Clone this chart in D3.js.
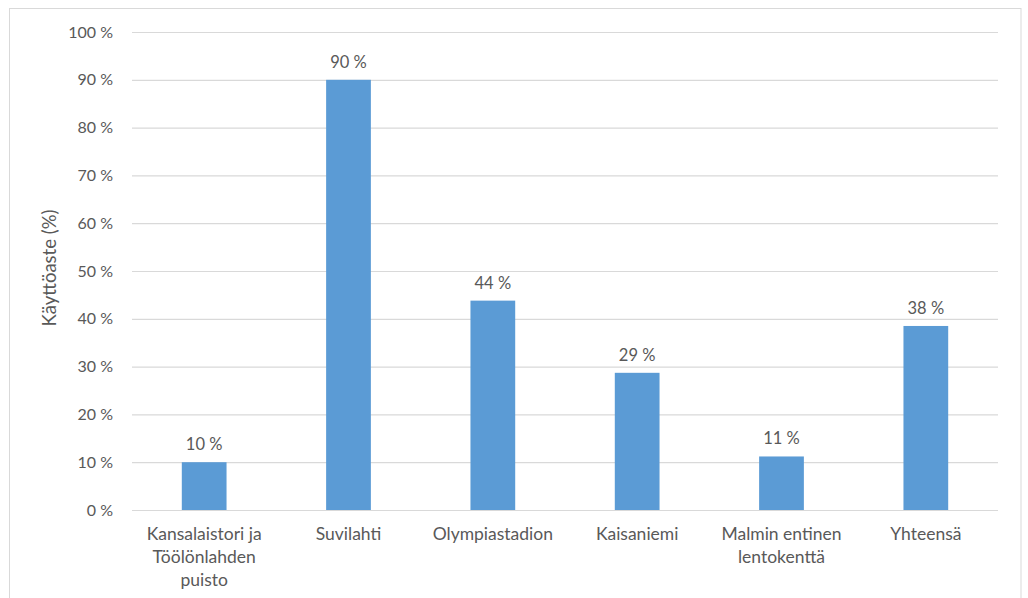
<!DOCTYPE html>
<html><head><meta charset="utf-8">
<script src="https://cdn.jsdelivr.net/npm/d3@7"></script>
<style>
body{margin:0;background:#fff;}
text{font-family:Lato,"Open Sans",sans-serif;fill:#595959;}
</style></head>
<body><svg id="c" width="1028" height="598"></svg>
<script>
const categories = ["Kansalaistori ja Töölönlahden puisto", "Suvilahti", "Olympiastadion", "Kaisaniemi", "Malmin entinen lentokenttä", "Yhteensä"];
const categoryLines = [["Kansalaistori ja","Töölönlahden","puisto"],["Suvilahti"],["Olympiastadion"],["Kaisaniemi"],["Malmin entinen","lentokenttä"],["Yhteensä"]];
const values = [10.0, 90.0, 43.8, 28.7, 11.2, 38.5];
const valueLabels = ["10 %", "90 %", "44 %", "29 %", "11 %", "38 %"];
const yTicks = [0,10,20,30,40,50,60,70,80,90,100];
const yTitle = "Käyttöaste (%)";

const svg = d3.select("#c");
svg.append("rect").attr("x",9.5).attr("y",8.5).attr("width",1011.5).attr("height",600)
  .attr("fill","#fff").attr("stroke","#d9d9d9").attr("stroke-width",1);

const m = {l:132, r:998, t:32, b:510};
const x = d3.scaleBand().domain(categories).range([m.l,m.r]).paddingInner(0.69).paddingOuter(0.345);
const y = d3.scaleLinear().domain([0,100]).range([m.b,m.t]);

const yAxis = svg.append("g").attr("transform",`translate(${m.l},0)`)
  .call(d3.axisLeft(y).tickValues(yTicks).tickSize(-(m.r-m.l)).tickPadding(19).tickFormat(d=>d+" %"));
yAxis.select(".domain").remove();
yAxis.selectAll(".tick line").attr("stroke","#d9d9d9").attr("stroke-width",1.2);
yAxis.selectAll(".tick text").attr("font-size",16).attr("fill","#595959").style("font-family","Lato,sans-serif");

svg.append("g").selectAll("text").data(values).join("text")
  .attr("x",(d,i)=>x(categories[i])+x.bandwidth()/2).attr("y",d=>y(d)-12)
  .attr("text-anchor","middle").attr("font-size",16.5).text((d,i)=>valueLabels[i]);

svg.append("g").selectAll("rect").data(values).join("rect")
  .attr("x",(d,i)=>x(categories[i])).attr("width",x.bandwidth())
  .attr("y",d=>y(d)).attr("height",d=>y(0)-y(d)).attr("fill","#5b9bd5");

const xl = svg.append("g");
categories.forEach((c,i)=>{
  const t = xl.append("text").attr("x",x(c)+x.bandwidth()/2).attr("y",540)
    .attr("text-anchor","middle").attr("font-size",17.5);
  categoryLines[i].forEach((ln,j)=>t.append("tspan").attr("x",x(c)+x.bandwidth()/2).attr("dy",j?23:0).text(ln));
});

svg.append("text").attr("transform","translate(56,268) rotate(-90)").attr("text-anchor","middle")
  .attr("font-size",18.5).text(yTitle);
</script></body></html>
